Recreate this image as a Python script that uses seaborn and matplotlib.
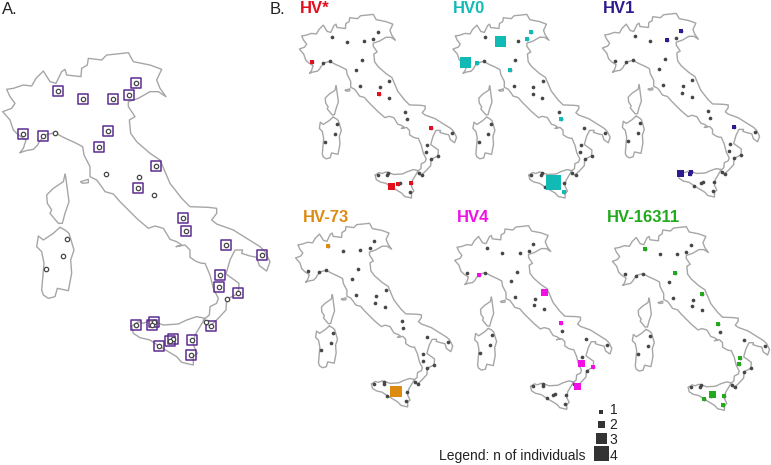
import matplotlib
matplotlib.use("Agg")
import matplotlib.pyplot as plt
import seaborn as sns
import pandas as pd

# everything on the map is traced in one coordinate system (panel A zoomed 3x)
mainland = [(60,458),(78,452),(100,448),(112,436),(118,425),(135,405),(165,398),(190,412),(225,428),(248,440),
            (252,465),(270,500),(270,530),(290,540),(305,560),(315,575),(340,582),(360,605),(385,630),(410,655),
            (445,685),(465,678),(490,685),(510,718),(530,725),(545,735),(528,740),(555,735),(570,750),(570,772),
            (590,785),(605,790),(615,790),(630,825),(640,865),(655,895),(650,910),(630,920),(628,945),(610,960),
            (618,972),(630,978),(650,960),(678,930),(680,898),(715,880),(717,850),(678,822),(690,780),(705,750),
            (728,750),(725,760),(750,768),(770,772),(778,797),(800,813),(810,785),(795,755),(780,740),(740,715),
            (700,690),(650,672),(635,660),(650,640),(650,625),(625,622),(570,620),(545,595),(510,550),(480,480),
            (450,460),(410,425),(392,400),(388,360),(405,350),(385,320),(385,305),(415,295),(450,275),(475,275),
            (498,290),(480,265),(470,240),(485,208),(450,195),(400,185),(385,158),(350,162),(320,165),(305,180),
            (265,175),(262,195),(245,205),(243,230),(200,225),(195,208),(185,215),(168,250),(150,245),(130,213),
            (108,235),(95,258),(70,255),(40,265),(20,268),(30,290),(45,310),(35,325),(8,335),(30,360),(40,390),
            (55,405),(78,420),(70,445),(60,458)]
sicily = [(395,978),(400,1000),(420,1013),(450,1020),(480,1040),(510,1058),(530,1070),(545,1087),(580,1095),
          (580,1070),(592,1060),(580,1035),(585,1005),(615,955),(590,950),(560,960),(535,972),(490,975),(470,968),
          (450,962),(430,970),(415,965),(395,978)]
corsica = [(195,523),(190,545),(160,565),(140,585),(142,610),(155,630),(150,640),(175,670),(187,670),(195,640),
           (207,605),(197,530),(195,523)]
sardinia = [(180,682),(160,700),(130,720),(115,708),(110,740),(125,755),(132,790),(125,870),(130,885),(145,895),
            (165,890),(172,865),(205,872),(215,820),(212,780),(222,750),(207,700),(195,690),(180,682)]
elba = [(242,545),(265,538),(265,548),(248,550),(242,545)]
outlines = [mainland, sicily, corsica, sardinia, elba]

site_x = [173,250,339,386,408,70,130,165,325,297,467,317,417,414,463,549,557,679,785,659,656,715,681,634,617,407,461,457,520,509,575,477,572,201,189,139]
site_y = [272,297,296,285,250,402,408,398,392,442,499,522,531,565,585,655,694,736,765,826,861,880,898,977,967,976,966,976,1016,1023,1020,1038,1066,718,769,807]
# sites without a sampling box in panel A
unboxed = [7,11,12,14,22,24,33,34,35]

panel_names = ["HV*", "HV0", "HV1", "HV-73", "HV4", "HV-16311"]
panel_colors = ["#e2101c", "#12bab6", "#2d1a8e", "#dd8a12", "#f010e6", "#20aa1c"]
# site index per haplogroup and number of individuals
hv_star_sites = [5,13,17,29,30,31]
hv_star_n = [1,1,1,1,1,2]
hv0_sites = [1,5,6,4,3,9,16,28,32]
hv0_n = [3,3,1,1,1,1,1,4,1]
hv1_sites = [4,2,17,25,26,27]
hv1_n = [1,1,1,2,1,1]
hv73_sites = [0,28]
hv73_n = [1,3]
hv4_sites = [6,10,15,20,21,23]
hv4_n = [1,2,1,2,1,2]
hv16311_sites = [0,8,10,15,19,20,28,30,31,32]
hv16311_n = [1,1,1,1,1,1,2,1,1,1]
panel_sites = [hv_star_sites, hv0_sites, hv1_sites, hv73_sites, hv4_sites, hv16311_sites]
panel_n = [hv_star_n, hv0_n, hv1_n, hv73_n, hv4_n, hv16311_n]
legend_n = [1,2,3,4]

# square side in pixels for each count
side_px = {1: 4.0, 2: 7.3, 3: 11.2, 4: 14.7}
sizes = {k: (v * 0.72) ** 2 for k, v in side_px.items()}
OUTLINE = "#a6a6a6"
DOT = "#474747"
BOX = "#5c2d91"

sns.set_theme(style="white")
plt.rcParams["font.family"] = ["Liberation Sans", "DejaVu Sans"]

fig = plt.figure(figsize=(7.71, 4.65), dpi=100)
ax = fig.add_axes([0, 0, 1, 1])


def draw_outlines(ax, scale, dx, dy):
    for shape in outlines:
        df = pd.DataFrame(shape, columns=["x", "y"])
        sns.lineplot(x=df.x * scale + dx, y=df.y * scale + dy, sort=False, estimator=None,
                     color=OUTLINE, lw=1.0, ax=ax)


# Panel A
scale_a = 1 / 3
draw_outlines(ax, scale_a, 0, 0)
sites = pd.DataFrame({"x": site_x, "y": site_y})
boxed = sites.drop(index=unboxed)
sns.scatterplot(x=boxed.x * scale_a, y=boxed.y * scale_a, marker="s", s=52, facecolor="none",
                edgecolor=BOX, linewidth=1.1, ax=ax, zorder=3)
sns.scatterplot(x=sites.x * scale_a, y=sites.y * scale_a, marker="o", s=10, facecolor="white",
                edgecolor=DOT, linewidth=0.9, ax=ax, zorder=4)

# Panels B
scale_b = 0.588 / 3
offsets = [(297.8, -16.6), (451.4, -16.6), (600.8, -17.6), (294.0, 192.3), (453.1, 194.7), (610.8, 195.7)]
title_pos = [(300, 8.5), (453, 8.5), (603, 8.5), (303, 217.5), (457, 217.5), (607, 217.5)]

for i, name in enumerate(panel_names):
    dx, dy = offsets[i]
    draw_outlines(ax, scale_b, dx, dy)
    sns.scatterplot(x=sites.x * scale_b + dx, y=sites.y * scale_b + dy, marker="o", s=7, color=DOT,
                    linewidth=0, ax=ax, zorder=3)
    hits = sites.loc[panel_sites[i]].copy()
    hits["n"] = panel_n[i]
    sns.scatterplot(x=hits.x * scale_b + dx, y=hits.y * scale_b + dy, size=hits.n, sizes=sizes, marker="s",
                    color=panel_colors[i], linewidth=0, legend=False, ax=ax, zorder=4)
    ax.text(title_pos[i][0], title_pos[i][1], name, color=panel_colors[i], fontsize=12, fontweight="bold",
            ha="left", va="center")

# size legend
legend_y = [411.7, 424.3, 438.3, 453.7]
legend_df = pd.DataFrame({"x": [601.3] * 4, "y": legend_y, "n": legend_n})
sns.scatterplot(data=legend_df, x="x", y="y", size="n", sizes=sizes, marker="s", color="#333333",
                linewidth=0, legend=False, ax=ax)
for n, y in zip(legend_n, [409.5, 424.5, 439.5, 455.5]):
    ax.text(613.5, y, str(n), fontsize=10, color="#222222", ha="center", va="center")
ax.text(439, 456, "Legend: n of individuals", fontsize=10, color="#222222", ha="left", va="center")

ax.text(2, 9, "A.", fontsize=12, color="#222222", ha="left", va="center")
ax.text(270, 9, "B.", fontsize=12, color="#222222", ha="left", va="center")

ax.set_xlim(0, 771)
ax.set_ylim(465, 0)
ax.axis("off")
fig.savefig("out.png", dpi=100)
